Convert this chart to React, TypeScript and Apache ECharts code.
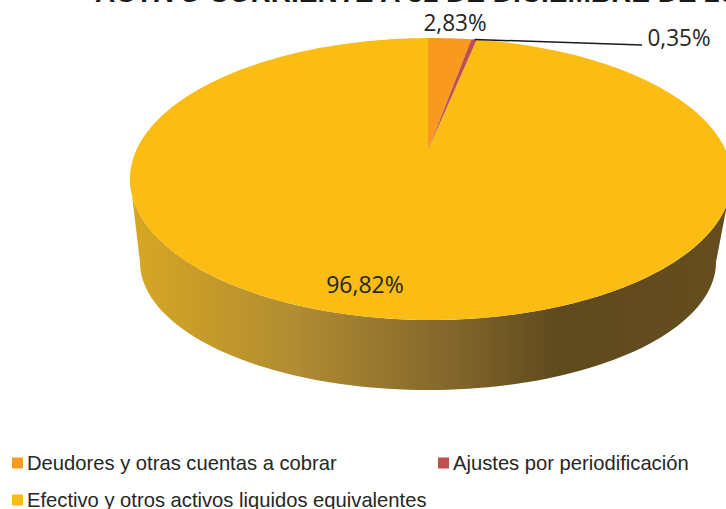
import React, { useEffect, useRef } from "react";
import * as echarts from "echarts";

const TITLE = "ACTIVO CORRIENTE A 31 DE DICIEMBRE DE 20";
const categories = [
  "Deudores y otras cuentas a cobrar",
  "Ajustes por periodificación",
  "Efectivo y otros activos liquidos equivalentes",
];
const values = [2.83, 0.35, 96.82];
const colors = ["#F79A1E", "#C0504D", "#FBBC14"];

const TOTAL = values.reduce((a, b) => a + b, 0);
const APEX = { x: 428, y: 150 };
const CX = 431;
const P = 0.2057; // perspective of the tilted disc
const R = 294.6;
const H = 135;
const START = (-0.7 * Math.PI) / 180;

const rim = (f: number) => {
  const t = START + f * 2 * Math.PI;
  const w = 1 + P * Math.cos(t);
  return [CX + (R * Math.sin(t)) / w, APEX.y - (H * Math.cos(t)) / w];
};
const wedge = (f0: number, f1: number) => {
  const n = Math.max(2, Math.ceil((f1 - f0) * 360));
  const pts: number[][] = [[APEX.x, APEX.y]];
  for (let i = 0; i <= n; i++) pts.push(rim(f0 + ((f1 - f0) * i) / n));
  return pts;
};
const wallPoints = () => {
  const pts: number[][] = [];
  for (let a = 0; a <= 180; a += 2) {
    const r = (a * Math.PI) / 180;
    pts.push([CX + 301 * Math.cos(r), 179 + 141 * Math.sin(r)]);
  }
  for (let a = 180; a >= 0; a -= 2) {
    const r = (a * Math.PI) / 180;
    pts.push([CX - 3 + 288 * Math.cos(r), 262 + 128 * Math.sin(r)]);
  }
  return pts;
};

const labelFont = '"Open Sans", sans-serif';
const pct = (v: number) => v.toFixed(2).replace(".", ",") + "%";

const labelText = (text: string, x: number, y: number, scaleX: number) => ({
  type: "text",
  x,
  y,
  scaleX,
  style: {
    text,
    x: 0,
    y: 0,
    fill: "#262626",
    font: `23px ${labelFont}`,
    textAlign: "center",
    textVerticalAlign: "middle",
  },
});

const sliceSeries = (idx: number) => ({
  type: "custom",
  name: categories[idx],
  coordinateSystem: "none",
  silent: true,
  z: idx === 2 ? 1 : 2,
  itemStyle: { color: colors[idx] },
  data: [[values[idx]]],
  renderItem: (_: any, api: any) => {
    const before = values.slice(0, idx).reduce((a, b) => a + b, 0);
    const f0 = before / TOTAL;
    const f1 = (before + api.value(0)) / TOTAL;
    const children: any[] = [];
    if (idx === 2) {
      children.push({
        type: "polygon",
        shape: { points: wallPoints() },
        style: {
          fill: new echarts.graphic.LinearGradient(
            130, 0, 726, 0,
            [
              { offset: 0, color: "#D8A722" },
              { offset: 0.28, color: "#B08C32" },
              { offset: 0.52, color: "#86692C" },
              { offset: 0.72, color: "#5F4A1E" },
              { offset: 1, color: "#654D1E" },
            ],
            true
          ),
        },
      });
    }
    children.push({
      type: "polygon",
      shape: { points: wedge(f0, f1) },
      style: { fill: colors[idx] },
    });
    if (idx === 0) children.push(labelText(pct(api.value(0)), 455, 22, 0.98));
    if (idx === 1) {
      children.push({
        type: "polyline",
        shape: { points: [rim(f1 - 0.0015), [642, 45]] },
        style: { stroke: "#1a1a1a", lineWidth: 1.5, fill: "none" },
      });
      children.push(labelText(pct(api.value(0)), 679, 37, 0.98));
    }
    if (idx === 2) children.push(labelText(pct(api.value(0)), 365, 284, 1));
    return { type: "group", children };
  },
});

const legend = (idx: number, left: number, top: number) => ({
  show: true,
  left,
  top,
  orient: "horizontal",
  padding: 0,
  data: [categories[idx]],
  icon: "rect",
  itemWidth: 11,
  itemHeight: 11,
  itemGap: 0,
  selectedMode: false,
  textStyle: {
    fontFamily: '"Liberation Sans", Arial, sans-serif',
    fontSize: 20.2,
    color: "#262626",
    padding: [0, 0, 0, -1],
  },
});

export default function App() {
  const ref = useRef<HTMLDivElement>(null);
  useEffect(() => {
    const chart = echarts.init(ref.current!, undefined, { renderer: "svg" });
    chart.setOption({
      animation: false,
      backgroundColor: "#ffffff",
      title: {
        text: TITLE,
        left: 95,
        top: -22,
        padding: 0,
        textStyle: {
          fontFamily: '"Liberation Sans", Arial, sans-serif',
          fontWeight: "bold",
          fontSize: 28,
          color: "#1a1a1a",
        },
      },
      legend: [legend(0, 12, 453), legend(1, 438, 453), legend(2, 12, 490)],
      series: [sliceSeries(2), sliceSeries(0), sliceSeries(1)],
    });
    return () => chart.dispose();
  }, []);
  return (
    <div
      ref={ref}
      style={{ position: "absolute", left: 0, top: 0, width: 726, height: 509, overflow: "hidden" }}
    />
  );
}
